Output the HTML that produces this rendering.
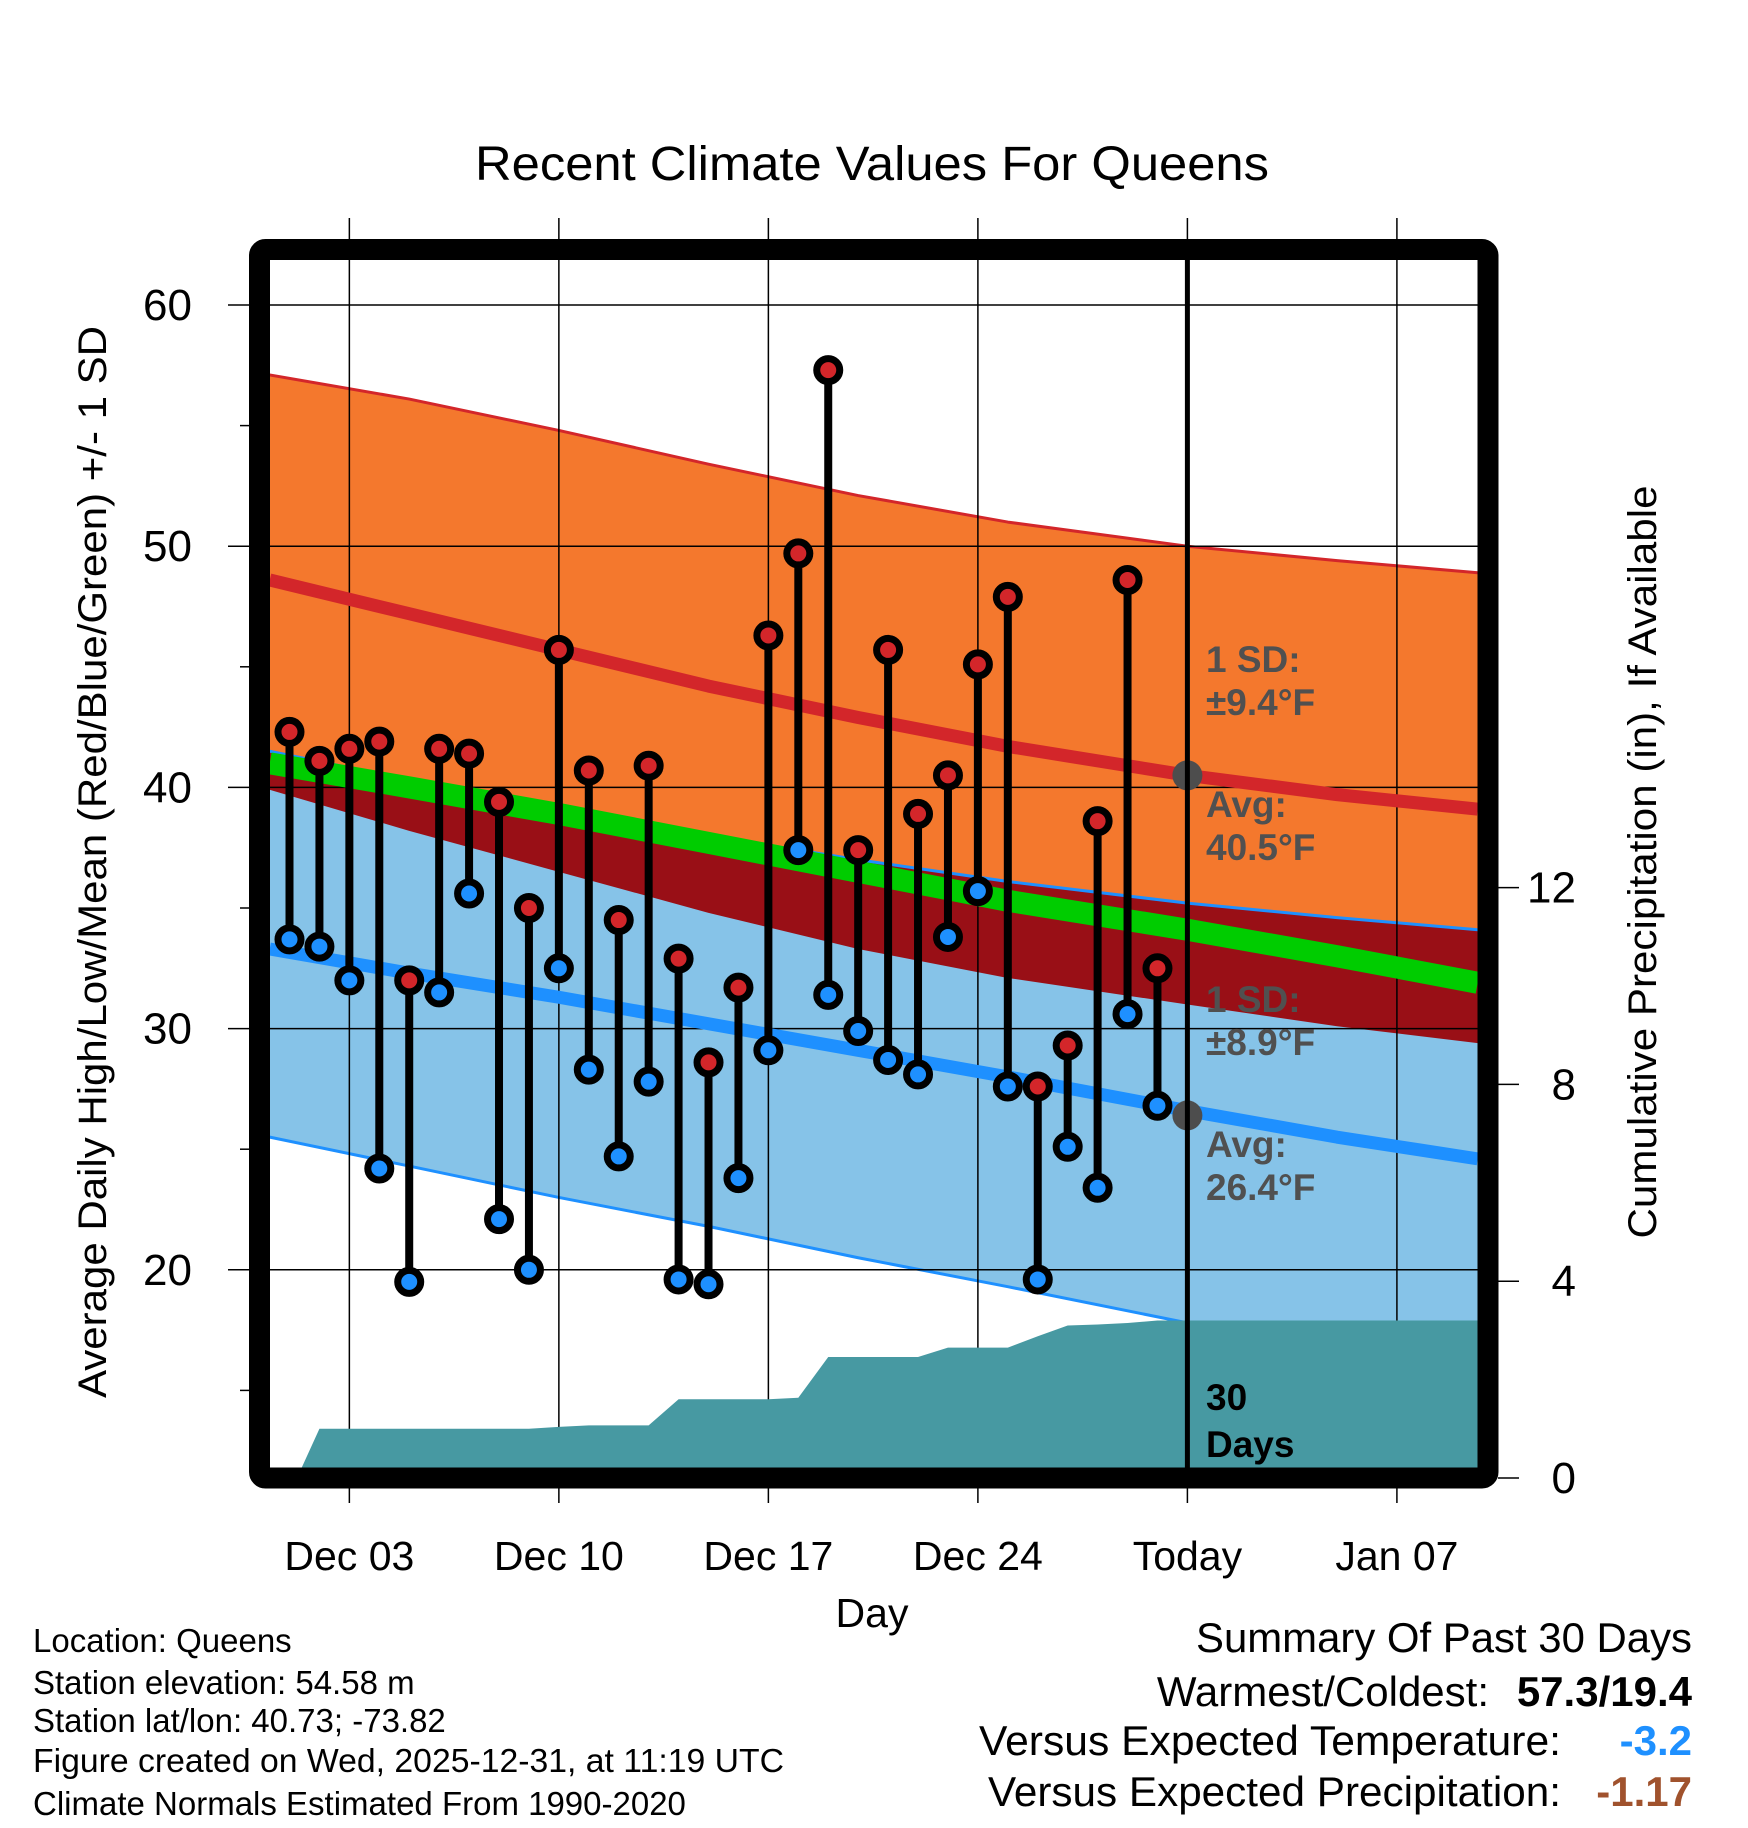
<!DOCTYPE html>
<html><head><meta charset="utf-8"><style>
html,body{margin:0;padding:0;background:#fff}
svg{display:block}
text{font-family:"Liberation Sans",Arial,sans-serif}
</style></head><body>
<svg id="chart" width="1748" height="1828" viewBox="0 0 1748 1828" xmlns="http://www.w3.org/2000/svg">
<defs><clipPath id="plotclip"><rect x="270" y="260" width="1208" height="1208"/></clipPath></defs>
<text x="872" y="180" font-size="48" text-anchor="middle" textLength="794" lengthAdjust="spacingAndGlyphs">Recent Climate Values For Queens</text>
<g id="bands" clip-path="url(#plotclip)"></g>
<g id="grid"></g>
<g id="precip" clip-path="url(#plotclip)"></g>
<g id="lines" clip-path="url(#plotclip)"></g>
<g id="marks"></g>
<g id="labels"></g>
<rect x="259.5" y="249.5" width="1228.5" height="1228.5" rx="6" fill="none" stroke="#000" stroke-width="21"/>
<text transform="translate(106,862) rotate(-90)" font-size="40" text-anchor="middle" textLength="1072" lengthAdjust="spacingAndGlyphs">Average Daily High/Low/Mean (Red/Blue/Green) +/- 1 SD</text>
<text transform="translate(1656,862) rotate(-90)" font-size="40" text-anchor="middle" textLength="753" lengthAdjust="spacingAndGlyphs">Cumulative Precipitation (in), If Available</text>
<text x="872" y="1627" font-size="41" text-anchor="middle">Day</text>
<g font-size="33">
<text x="33" y="1652">Location: Queens</text>
<text x="33" y="1694">Station elevation: 54.58 m</text>
<text x="33" y="1732">Station lat/lon: 40.73; -73.82</text>
<text x="33" y="1772" textLength="751" lengthAdjust="spacingAndGlyphs">Figure created on Wed, 2025-12-31, at 11:19 UTC</text>
<text x="33" y="1815">Climate Normals Estimated From 1990-2020</text>
</g>
<g font-size="42">
<text x="1692" y="1652" text-anchor="end" textLength="496" lengthAdjust="spacingAndGlyphs">Summary Of Past 30 Days</text>
<text x="1489" y="1706" text-anchor="end">Warmest/Coldest:</text>
<text x="1692" y="1706" text-anchor="end" font-weight="bold">57.3/19.4</text>
<text x="1561" y="1755" text-anchor="end" textLength="582" lengthAdjust="spacingAndGlyphs">Versus Expected Temperature:</text>
<text x="1692" y="1755" text-anchor="end" font-weight="bold" fill="#1e90ff">-3.2</text>
<text x="1561" y="1806" text-anchor="end" textLength="573" lengthAdjust="spacingAndGlyphs">Versus Expected Precipitation:</text>
<text x="1692" y="1806" text-anchor="end" font-weight="bold" fill="#a0522d">-1.17</text>
</g>
</svg>
<script>
const days = [1,2,3,4,5,6,7,8,9,10,11,12,13,14,15,16,17,18,19,20,21,22,23,24,25,26,27,28,29,30];
const highs = [42.3,41.1,41.6,41.9,32.0,41.6,41.4,39.4,35.0,45.7,40.7,34.5,40.9,32.9,28.6,31.7,46.3,49.7,57.3,37.4,45.7,38.9,40.5,45.1,47.9,27.6,29.3,38.6,48.6,32.5];
const lows = [33.7,33.4,32.0,24.2,19.5,31.5,35.6,22.1,20.0,32.5,28.3,24.7,27.8,19.6,19.4,23.8,29.1,37.4,31.4,29.9,28.7,28.1,33.8,35.7,27.6,19.6,25.1,23.4,30.6,26.8];
const precipCum = [0,1.0,1.0,1.0,1.0,1.0,1.0,1.0,1.0,1.04,1.07,1.07,1.07,1.6,1.6,1.6,1.6,1.63,2.46,2.46,2.46,2.46,2.65,2.65,2.65,2.88,3.1,3.12,3.15,3.2];
const normDays = [0.34,5,10,15,20,25,31,36,40.7];
const hiPlus = [57.1,56.1,54.8,53.4,52.1,51.0,50.0,49.4,48.9];
const hiAvg = [48.6,47.2,45.7,44.2,42.9,41.7,40.5,39.7,39.1];
const hiMinus = [39.9,38.2,36.5,34.8,33.3,32.1,31.0,30.1,29.4];
const meanAvg = [41.0,40.0,38.9,37.7,36.5,35.3,34.1,33.0,31.9];
const loPlus = [41.5,40.3,39.1,38.0,37.0,36.1,35.2,34.6,34.1];
const loAvg = [33.3,32.3,31.3,30.2,29.1,28.0,26.6,25.5,24.6];
const loMinus = [25.5,24.3,23.0,21.8,20.5,19.3,17.8,16.8,16.0];
const yTicks = [20,30,40,50,60];
const yMinor = [15,25,35,45,55];
const pTicks = [0,4,8,12];
const xTickDays = [3,10,17,24,31,38];
const xTickLabels = ["Dec 03","Dec 10","Dec 17","Dec 24","Today","Jan 07"];
const todayDay = 31;
const todayHiAvg = 40.5, todayLoAvg = 26.4;

const NS="http://www.w3.org/2000/svg";
const x = d => 289.5 + (d-1)*29.93;
const y = v => 305 + (60-v)*24.12;
const yp = p => 1478 - p*49.2;
function mk(tag, attrs, parent){const e=document.createElementNS(NS,tag);for(const k in attrs)e.setAttribute(k,attrs[k]);parent.appendChild(e);return e;}
const bands=document.getElementById('bands'),grid=document.getElementById('grid'),precip=document.getElementById('precip'),lines=document.getElementById('lines'),marks=document.getElementById('marks'),labels=document.getElementById('labels');
const pts = arr => normDays.map((d,i)=>x(d)+','+y(arr[i]));
function band(top,bot,fill,name){
  const p=pts(top).concat(pts(bot).reverse()).join(' ');
  const e=mk('polygon',{points:p,fill:fill},bands);
  
  
}
band(hiPlus,hiMinus,'#f4782d','high-sd-band');
band(loPlus,loMinus,'#86c3e8','low-sd-band');
band(loPlus,hiMinus,'#990f16','overlap-band');
function line(arr,color,w,name,parent){
  const e=mk('polyline',{points:pts(arr).join(' '),fill:'none',stroke:color,'stroke-width':w,'stroke-linejoin':'round'},parent||lines);
  
  
}
line(hiPlus,'#d3262a',3,'high-plus-sd-line',bands);
line(loMinus,'#1e90ff',3,'low-minus-sd-line',bands);
line(loPlus,'#1e90ff',3,'low-plus-sd-line',bands);
yTicks.forEach(v=>{
  const g=mk('line',{x1:228,x2:1488,y1:y(v),y2:y(v),stroke:'#000','stroke-width':1.5},grid);
  
  
  const t=mk('text',{x:192,y:y(v)+15,'font-size':44,'text-anchor':'end'},labels);
  t.textContent=v;
  
  
});
yMinor.forEach(v=>{
  const g=mk('line',{x1:240,x2:250,y1:y(v),y2:y(v),stroke:'#000','stroke-width':1.5},grid);
  
  
});
xTickDays.forEach((d,i)=>{
  const g=mk('line',{x1:x(d),x2:x(d),y1:218,y2:1503,stroke:'#000','stroke-width':1.5},grid);
  
  
  const t=mk('text',{x:x(d),y:1570,'font-size':41,'text-anchor':'middle'},labels);
  t.textContent=xTickLabels[i];
  
  
});
pTicks.forEach(p=>{
  const g=mk('line',{x1:1498,x2:1519,y1:yp(p),y2:yp(p),stroke:'#000','stroke-width':1.5},labels);
  
  
  const t=mk('text',{x:1576,y:yp(p)+15,'font-size':44,'text-anchor':'end'},labels);
  t.textContent=p;
  
  
});
{
  let p=[x(1.25)+','+yp(0)];
  days.forEach((d,i)=>{ if(i>0) p.push(x(d)+','+yp(precipCum[i])); });
  p.push('1480,'+yp(precipCum[precipCum.length-1]));
  p.push('1480,'+yp(-0.5));
  p.push(x(1.25)+','+yp(-0.5));
  const e=mk('polygon',{points:p.join(' '),fill:'#4799a2'},precip);
  
  
}
line(hiAvg,'#d3262a',13,'high-avg-line');
line(loAvg,'#1e90ff',13,'low-avg-line');
line(meanAvg,'#00cc00',22,'mean-line');
[todayHiAvg,todayLoAvg].forEach(v=>{
  const c=mk('circle',{cx:x(todayDay),cy:y(v),r:15,fill:'#4d4d4d'},marks);
  
  
});
{
  const l=mk('line',{x1:x(todayDay),x2:x(todayDay),y1:260,y2:1470,stroke:'#000','stroke-width':5},marks);
  
  
}
days.forEach((d,i)=>{
  const s=mk('line',{x1:x(d),x2:x(d),y1:y(highs[i]),y2:y(lows[i]),stroke:'#000','stroke-width':8},marks);
  
  
});
days.forEach((d,i)=>{
  const h=mk('circle',{cx:x(d),cy:y(highs[i]),r:11.5,fill:'#d3262a',stroke:'#000','stroke-width':7},marks);
  
  
  const l=mk('circle',{cx:x(d),cy:y(lows[i]),r:11.5,fill:'#1e90ff',stroke:'#000','stroke-width':7},marks);
  
  
});
const ann=[["1 SD:",672,'#505050','hi-sd-label'],["±9.4°F",715,'#505050','hi-sd-value'],["Avg:",817,'#505050','hi-avg-label'],["40.5°F",860,'#505050','hi-avg-value'],["1 SD:",1012,'#505050','lo-sd-label'],["±8.9°F",1055,'#505050','lo-sd-value'],["Avg:",1157,'#505050','lo-avg-label'],["26.4°F",1200,'#505050','lo-avg-value'],["30",1410,'#000','precip-days-label'],["Days",1457,'#000','precip-days-unit']];
ann.forEach(a=>{
  const t=mk('text',{x:1206,y:a[1],'font-size':37,'font-weight':'bold',fill:a[2]},labels);
  t.textContent=a[0];
  
  
});
</script>
</body></html>
